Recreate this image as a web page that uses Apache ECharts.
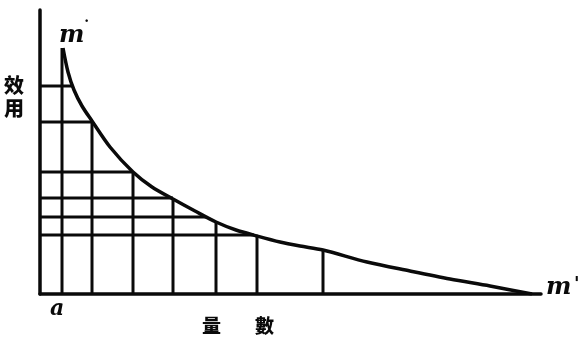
<!DOCTYPE html>
<html>
<head>
<meta charset="utf-8">
<script src="https://cdn.jsdelivr.net/npm/echarts@6/dist/echarts.min.js"></script>
<style>
html,body{margin:0;padding:0;background:#fff;}
#chart{width:582px;height:342px;}
</style>
</head>
<body>
<div id="chart"></div>
<script>
// Utility curve (hand-drawn diagram), values in arbitrary units
var curveX = [23, 28, 34, 42, 52, 70, 93, 112, 133, 155, 176, 196, 217, 240, 260, 283, 327, 370, 410, 450, 492];
var curveY = [246, 222, 204, 188, 173, 147, 122, 107, 95, 83, 72, 64, 58, 52, 48, 44, 32, 23, 15, 8, 0];
// vertical strips: x position and height up to the curve
var vertX = [22, 52, 93, 133, 176, 217, 283];
var vertTop = [246, 172, 122, 95, 72, 58, 44];
// horizontal lines: level and extent to the curve
var horizY = [208, 172, 122, 96, 77, 59];
var horizEnd = [32, 52, 93, 133, 166, 214];

var xMax = 501, yMax = 284;
var ink = '#0a0a0a';

var curveData = curveX.map(function (x, i) { return [x, curveY[i]]; });
var vertData = vertX.map(function (x, i) { return [x, vertTop[i]]; });
var horizData = horizY.map(function (y, i) { return [horizEnd[i], y]; });

var chart = echarts.init(document.getElementById('chart'));
chart.setOption({
  animation: false,
  grid: { left: 40, right: 41, top: 10, bottom: 48 },
  xAxis: {
    type: 'value', min: 0, max: xMax,
    axisLine: { show: true, lineStyle: { color: ink, width: 3.5 } },
    axisTick: { show: false }, axisLabel: { show: false }, splitLine: { show: false }
  },
  yAxis: {
    type: 'value', min: 0, max: yMax,
    axisLine: { show: true, lineStyle: { color: ink, width: 3.5 } },
    axisTick: { show: false }, axisLabel: { show: false }, splitLine: { show: false }
  },
  series: [
    {
      type: 'custom',
      data: vertData,
      renderItem: function (params, api) {
        var p0 = api.coord([api.value(0), 0]);
        var p1 = api.coord([api.value(0), api.value(1)]);
        return { type: 'line', shape: { x1: p0[0], y1: p0[1], x2: p1[0], y2: p1[1] },
                 style: { stroke: ink, lineWidth: 3 } };
      }
    },
    {
      type: 'custom',
      data: horizData,
      renderItem: function (params, api) {
        var p0 = api.coord([0, api.value(1)]);
        var p1 = api.coord([api.value(0), api.value(1)]);
        return { type: 'line', shape: { x1: p0[0], y1: p0[1], x2: p1[0], y2: p1[1] },
                 style: { stroke: ink, lineWidth: 3 } };
      }
    },
    {
      type: 'line',
      data: curveData,
      smooth: 0.3,
      showSymbol: false,
      lineStyle: { color: ink, width: 3.5 }
    }
  ],
  graphic: [
    { type: 'text', left: 59, top: 24, style: { text: 'm', font: 'italic 900 24px "DejaVu Serif"', fill: ink } },
    { type: 'text', left: 84, top: 14, style: { text: '·', font: 'bold 16px "Liberation Serif"', fill: ink } },
    { type: 'text', left: 546, top: 276, style: { text: 'm', font: 'italic 900 24px "DejaVu Serif"', fill: ink } },
    { type: 'text', left: 574, top: 276, style: { text: "'", font: 'bold 18px "DejaVu Serif"', fill: ink } },
    { type: 'text', left: 50, top: 298, style: { text: 'a', font: 'italic 900 22px "DejaVu Serif"', fill: ink } },
    { type: 'text', left: 4, top: 75, style: { text: '效', font: '900 20px "Noto Sans CJK TC"', fill: ink } },
    { type: 'text', left: 4, top: 98, style: { text: '用', font: '900 20px "Noto Sans CJK TC"', fill: ink } },
    { type: 'text', left: 202, top: 316, style: { text: '量', font: '900 19px "Noto Sans CJK TC"', fill: ink } },
    { type: 'text', left: 255, top: 316, style: { text: '數', font: '900 19px "Noto Sans CJK TC"', fill: ink } }
  ]
});
</script>
</body>
</html>
